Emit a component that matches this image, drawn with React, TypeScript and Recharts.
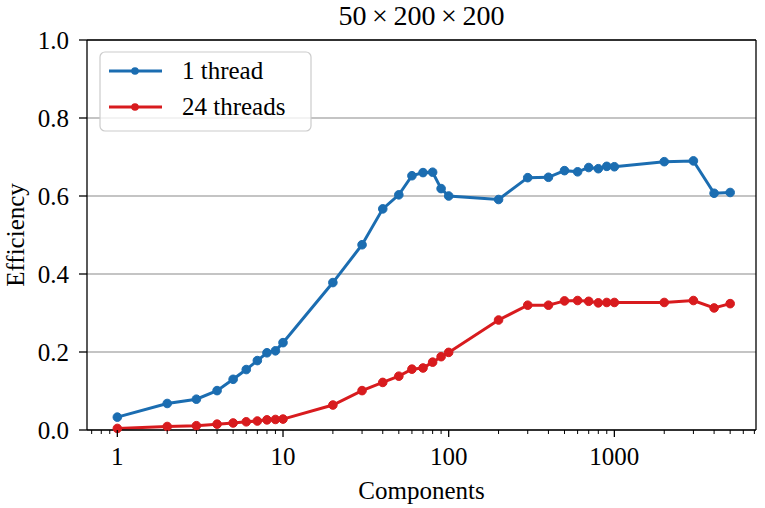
import React from "react";
import { LineChart, Line, XAxis, YAxis, CartesianGrid, Legend, ReferenceLine } from "recharts";

// number of components (x) and measured efficiency per thread count
const components = [
  1, 2, 3, 4, 5, 6, 7, 8, 9, 10, 20, 30, 40, 50, 60, 70, 80, 90, 100, 200, 300, 400, 500, 600,
  700, 800, 900, 1000, 2000, 3000, 4000, 5000,
];
const oneThread = [
  0.033, 0.068, 0.079, 0.101, 0.13, 0.155, 0.178, 0.198, 0.203, 0.224, 0.378, 0.475, 0.567,
  0.603, 0.652, 0.66, 0.661, 0.619, 0.6, 0.591, 0.647, 0.648, 0.665, 0.662, 0.673, 0.67, 0.676,
  0.675, 0.688, 0.69, 0.607, 0.609,
];
const twentyFourThreads = [
  0.004, 0.009, 0.011, 0.015, 0.018, 0.021, 0.023, 0.026, 0.027, 0.028, 0.064, 0.101, 0.122,
  0.138, 0.156, 0.159, 0.174, 0.188, 0.199, 0.282, 0.32, 0.32, 0.331, 0.332, 0.33, 0.326, 0.327,
  0.327, 0.327, 0.332, 0.313, 0.324,
];

const majorTicks = [1, 10, 100, 1000];
const minorTicks = [
  0.7, 0.8, 0.9, 2, 3, 4, 5, 6, 7, 8, 9, 20, 30, 40, 50, 60, 70, 80, 90, 200, 300, 400, 500, 600,
  700, 800, 900, 2000, 3000, 4000, 5000, 6000, 7000,
];
const allXTicks = [...minorTicks, ...majorTicks].sort((a, b) => a - b);
const yTicks = [0, 0.2, 0.4, 0.6, 0.8, 1.0];

const BLUE = "#1b6db1";
const RED = "#d81b1e";
const FONT = "'Liberation Serif', 'Times New Roman', serif";
const xDomain = [0.656, 7160];
const TICK_SIZE = 7;
const TICK_MARGIN = 10;

const data = components.map((c, i) => ({
  components: c,
  one: oneThread[i],
  many: twentyFourThreads[i],
}));

const legendItems = [
  { label: "1 thread", color: BLUE },
  { label: "24 threads", color: RED },
];

const LegendBox = () => (
  <svg width={214} height={82} style={{ display: "block" }}>
    <rect x={1} y={1} width={211} height={79} rx={5} ry={5} fill="#fff" fillOpacity={0.8} stroke="#cccccc" strokeWidth={1.2} />
    {legendItems.map((it, i) => (
      <g key={it.label}>
        <line x1={10} x2={63} y1={20 + i * 36} y2={20 + i * 36} stroke={it.color} strokeWidth={3} />
        <circle cx={36} cy={20 + i * 36} r={3.8} fill={it.color} />
        <text x={83} y={28 + i * 36} fontFamily={FONT} fontSize={25} fill="#000">
          {it.label}
        </text>
      </g>
    ))}
  </svg>
);

// log axis tick: long tick + label for decades, short tick for the rest
const XTick = ({ x, y, payload }: any) => {
  const major = majorTicks.includes(payload.value);
  const y0 = y - TICK_SIZE - TICK_MARGIN;
  return (
    <g>
      <line x1={x} x2={x} y1={y0} y2={y0 + (major ? TICK_SIZE : 4)} stroke="#000" strokeWidth={major ? 1.3 : 1} />
      {major && (
        <text x={x} y={y} dy="0.71em" textAnchor="middle" fontFamily={FONT} fontSize={25} fill="#000">
          {payload.value}
        </text>
      )}
    </g>
  );
};

const axisLine = { stroke: "#000", strokeWidth: 1.3 };

export default function App() {
  return (
    <div style={{ position: "absolute", left: 0, top: 0, width: 765, height: 508 }}>
      <LineChart width={765} height={508} data={data} margin={{ top: 40, right: 9, bottom: 0, left: 0 }}>
        <CartesianGrid vertical={false} stroke="#b0b0b0" strokeWidth={1.3} />
        <XAxis
          dataKey="components"
          type="number"
          scale="log"
          domain={xDomain}
          allowDataOverflow
          ticks={allXTicks}
          interval={0}
          height={78}
          tickSize={TICK_SIZE}
          tickMargin={TICK_MARGIN}
          tick={<XTick />}
          tickLine={false}
          axisLine={axisLine}
          label={{
            content: ({ viewBox }: any) => (
              <text x={viewBox.x + viewBox.width / 2} y={viewBox.y + 69} textAnchor="middle" fontFamily={FONT} fontSize={25} fill="#000">
                Components
              </text>
            ),
          }}
        />
        <YAxis
          type="number"
          domain={[0, 1]}
          ticks={yTicks}
          interval={0}
          width={87}
          tickSize={8}
          tickMargin={10}
          tickFormatter={(v: number) => v.toFixed(1)}
          tick={{ fill: "#000", fontFamily: FONT, fontSize: 25 }}
          axisLine={axisLine}
          tickLine={{ stroke: "#000", strokeWidth: 1.3 }}
          label={{
            content: ({ viewBox }: any) => {
              const cy = viewBox.y + viewBox.height / 2;
              return (
                <text x={24} y={cy} transform={`rotate(-90, 24, ${cy})`} textAnchor="middle" fontFamily={FONT} fontSize={25} fill="#000">
                  Efficiency
                </text>
              );
            },
          }}
        />
        {/* top and right frame */}
        <ReferenceLine y={1} stroke="#000" strokeWidth={1.3} />
        <ReferenceLine x={xDomain[1]} stroke="#000" strokeWidth={1.3} />
        <Legend
          layout="horizontal"
          align="center"
          verticalAlign="middle"
          wrapperStyle={{ left: 99, top: 51, width: 214, height: 82 }}
          content={() => <LegendBox />}
        />
        <Line
          dataKey="one"
          name="1 thread"
          stroke={BLUE}
          strokeWidth={3}
          dot={{ r: 4.3, fill: BLUE, stroke: BLUE, strokeWidth: 1 }}
          activeDot={false}
          isAnimationActive={false}
        />
        <Line
          dataKey="many"
          name="24 threads"
          stroke={RED}
          strokeWidth={3}
          dot={{ r: 4.3, fill: RED, stroke: RED, strokeWidth: 1 }}
          activeDot={false}
          isAnimationActive={false}
        />
      </LineChart>
      <svg width={765} height={40} style={{ position: "absolute", left: 0, top: 0, pointerEvents: "none" }}>
        <text x={421.5} y={25} textAnchor="middle" fontFamily={FONT} fontSize={28} fill="#000">
          {"50\u2009×\u2009200\u2009×\u2009200"}
        </text>
      </svg>
    </div>
  );
}
